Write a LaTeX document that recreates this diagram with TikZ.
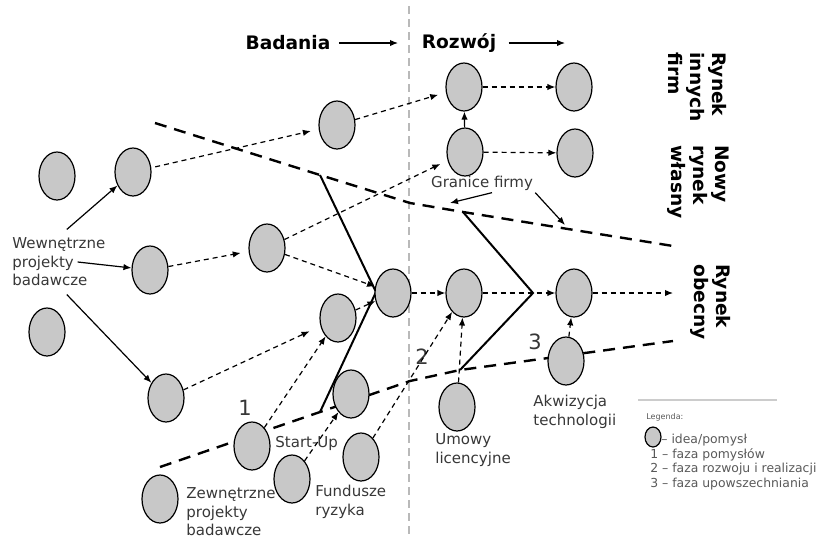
\documentclass[tikz,border=0pt]{standalone}
\usepackage{fontspec}
\setmainfont{DejaVu Sans}
\usetikzlibrary{arrows.meta,shapes.geometric}
\definecolor{ideagray}{RGB}{200,200,200}
\definecolor{txt}{RGB}{55,55,55}

\begin{document}
\begin{tikzpicture}[x=0.5pt, y=-0.5pt,
    bubble/.style={ellipse, draw, fill=ideagray, line width=0.6pt, minimum width=18pt, minimum height=24pt, inner sep=0pt},
    arr/.style={-{Latex[length=4pt,width=3.2pt]}, line width=0.6pt},
    darr/.style={arr, dash pattern=on 2.5pt off 2pt},
    bnd/.style={line width=1.2pt, dash pattern=on 6pt off 4pt},
    chev/.style={line width=1pt},
    lbl/.style={font=\fontsize{7.5}{9.3}\selectfont, text=txt, align=left, inner sep=1pt},
    head/.style={font=\fontsize{9.3}{11}\selectfont\bfseries, inner sep=1pt},
    mkt/.style={head, rotate=-90, align=left, anchor=west},
    num/.style={font=\fontsize{10.5}{12}\selectfont, text=txt, inner sep=0pt},
    leg/.style={font=\fontsize{6.2}{7.3}\selectfont, text=black!65, align=left, inner sep=0pt},
]
\useasboundingbox (0,0) rectangle (820,537);

% Separator
\draw[gray!55, line width=0.7pt, dash pattern=on 4pt off 2.5pt] (409,6) -- (409,537);

% Firm boundaries
\coordinate (ub0) at (155,123);
\coordinate (ub1) at (320,175);
\coordinate (ub2) at (410,203);
\coordinate (ub3) at (463,212);
\coordinate (ub4) at (673,246);
\coordinate (lb0) at (160,467);
\coordinate (lb1) at (320,412);
\coordinate (lb2) at (410,381);
\coordinate (lb3) at (460,370);
\coordinate (lb4) at (673,341);
\draw[bnd] (ub0) -- (ub1) -- (ub2) -- (ub3) -- (ub4);
\draw[bnd] (lb0) -- (lb1) -- (lb2) -- (lb3) -- (lb4);

% Phase chevrons
\coordinate (apex1) at (376,292);
\coordinate (apex2) at (533,293);
\draw[chev] (ub1) -- (apex1) -- (lb1);
\draw[chev] (ub3) -- (apex2) -- (lb3);

% Ideas
\node[bubble] (idA) at (57,176) {};
\node[bubble] (idB) at (133,172) {};
\node[bubble] (idC) at (337,125) {};
\node[bubble] (idD) at (267,248) {};
\node[bubble] (idE) at (150,270) {};
\node[bubble] (idF) at (47,332) {};
\node[bubble] (idG) at (166,398) {};
\node[bubble] (idH) at (338,318) {};
\node[bubble] (idK) at (393,293) {};
\node[bubble] (idL) at (351,394) {};
\node[bubble] (ext1) at (252,446) {};
\node[bubble] (ext2) at (292,479) {};
\node[bubble] (ext3) at (361,457) {};
\node[bubble] (ext4) at (160,499) {};
\node[bubble] (r1) at (464,87) {};
\node[bubble] (r2) at (574,87) {};
\node[bubble] (r3) at (465,152) {};
\node[bubble] (r4) at (575,153) {};
\node[bubble] (r5) at (464,293) {};
\node[bubble] (r6) at (574,293) {};
\node[bubble] (r7) at (566,361) {};
\node[bubble] (r8) at (457,407) {};

% Headings
\node[head] (bad) at (288,43) {Badania};
\node[head] (roz) at (459,43) {Rozwój};
\coordinate (badEnd) at (398,43);
\coordinate (rozEnd) at (565,43);
\draw[arr] ([xshift=3pt]bad.east) -- (badEnd);
\draw[arr] ([xshift=5pt]roz.east) -- (rozEnd);
\node[mkt] (mkt1) at (698,50) {Rynek\\innych\\firm};
\node[mkt] (mkt2) at (698,143) {Nowy\\rynek\\własny};
\node[mkt] (mkt3) at (711,262) {Rynek\\obecny};

% Labels
\node[lbl, anchor=west] (wip) at (10,262) {Wewnętrzne\\projekty\\badawcze};
\node[lbl, anchor=west] (sup) at (273,443) {Start-Up};
\node[lbl, anchor=west] (fund) at (313,502) {Fundusze\\ryzyka};
\node[lbl, anchor=west] (zew) at (184,512) {Zewnętrzne\\projekty\\badawcze};
\node[lbl, anchor=west] (umo) at (433,450) {Umowy\\licencyjne};
\node[lbl, anchor=west] (akw) at (531,412) {Akwizycja\\technologii};
\node[lbl] (gf) at (482,183) {Granice firmy};
\node[num] (n1) at (245,408) {1};
\node[num] (n2) at (422,357) {2};
\node[num] (n3) at (535,342) {3};

% Solid arrows
\draw[arr] ([xshift=4pt,yshift=3pt]wip.north) -- (idB);
\draw[arr] ([xshift=-15pt,yshift=0pt]wip.east) -- (idE);
\draw[arr] ([xshift=4pt,yshift=-3pt]wip.south) -- (idG);
\coordinate (gfa) at (450,203);
\coordinate (gfb) at (565,225);
\draw[arr] ([xshift=5pt]gf.south) -- (gfa);
\draw[arr] (gf.south east) -- (gfb);
\draw[arr] (r3) -- (r1);

% Dashed arrows
\draw[darr, shorten >=4pt, shorten <=2pt] (idB) -- (idC);
\draw[darr, shorten >=4pt] (idC) -- (r1);
\draw[darr, shorten >=4pt] (idE) -- (idD);
\draw[darr, shorten >=4pt] (idD) -- (r3);
\draw[darr] (idD) -- (idK);
\draw[darr, shorten >=6pt] (idG) -- (idH);
\draw[darr] (idH) -- (idK);
\draw[darr] (ext1) -- (idH);
\draw[darr] (ext2) -- (idL);
\draw[darr] (ext3) -- (r5);
\draw[darr] (r8) -- (r5);
\draw[darr] (idK) -- (r5);
\draw[darr] (r5) -- (r6);
\coordinate (mktEnd) at (673,293);
\draw[darr] (r6) -- (mktEnd);
\draw[darr] (r7) -- (r6);
\draw[darr] (r1) -- (r2);
\draw[darr] (r3) -- (r4);

% Legend
\draw[gray!40, line width=1pt] (638,400) -- (777,400);
\node[leg, anchor=west, font=\fontsize{4}{5}\selectfont] (legT) at (646,417) {Legenda:};
\node[bubble, minimum width=8pt, minimum height=10pt] (legE) at (653,437) {};
\node[leg, anchor=west] (leg0) at (661,440) {– idea/pomysł};
\node[leg, anchor=west] (leg1) at (650,469) {1 – faza pomysłów\\2 – faza rozwoju i realizacji\\3 – faza upowszechniania};
\end{tikzpicture}
\end{document}
